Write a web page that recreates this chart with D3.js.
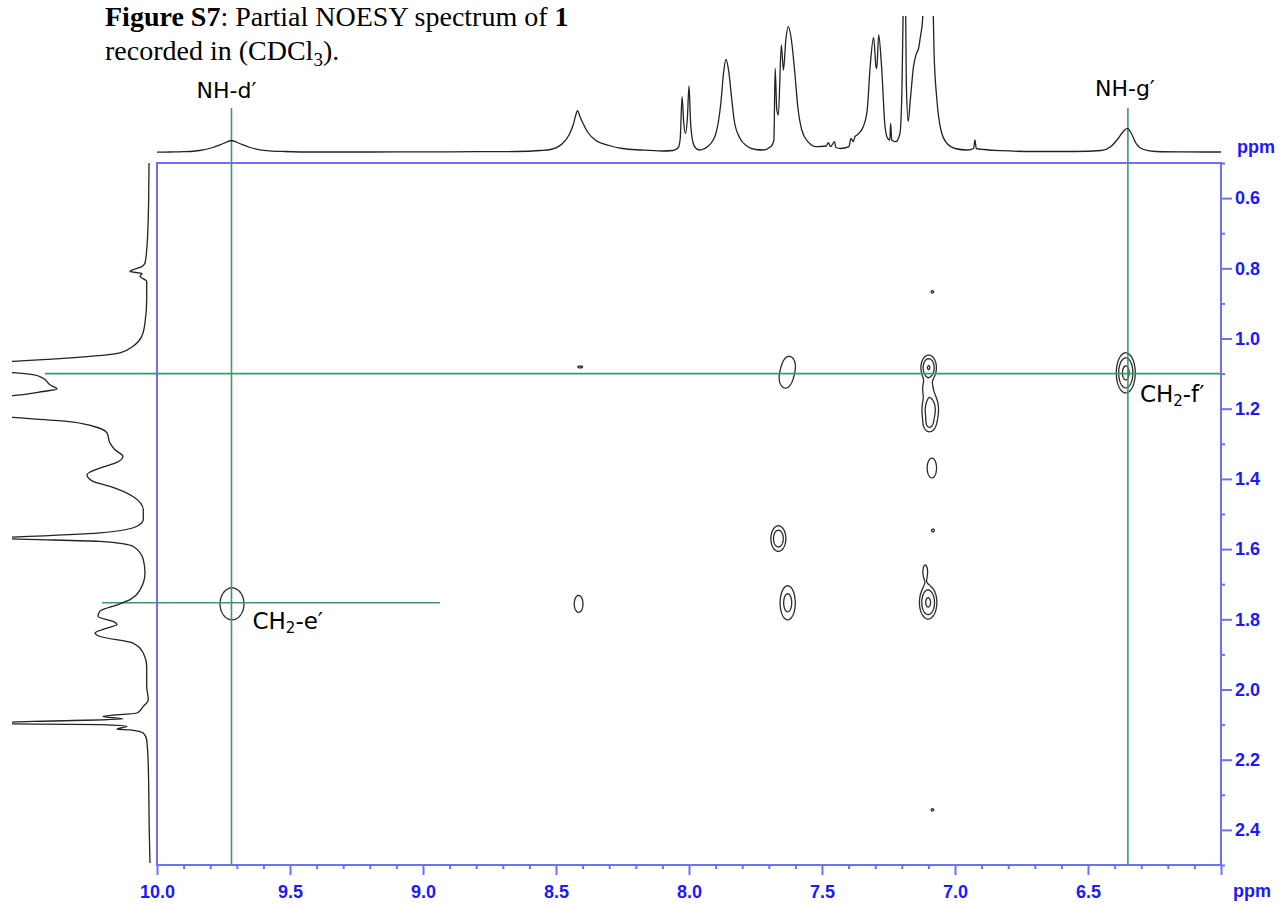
<!DOCTYPE html>
<html>
<head>
<meta charset="utf-8">
<script src="https://cdn.jsdelivr.net/npm/d3@7"></script>
<style>
body { margin: 0; background: #fff; }
svg { display: block; }
.title { font-family: "Liberation Serif", "Times New Roman", serif; font-size: 28px; fill: #000; }
.lbl { font-family: "DejaVu Sans", Verdana, sans-serif; fill: #000; }
.ax text { font-family: "Liberation Sans", Arial, sans-serif; font-weight: bold; font-size: 18px; fill: #1a1aff; }
.ax line { stroke: #6e6eff; stroke-width: 2; }
</style>
</head>
<body>
<svg id="chart" width="1282" height="906"></svg>
<script>
// F2 (top) 1D trace: [ppm, intensity]
var topTrace = [[10.00,0.3],[9.95,0.5],[9.90,0.8],[9.84,2],[9.79,5],[9.75,9],[9.72,12],[9.69,9],[9.65,5],[9.60,2.2],
  [9.52,1],[9.40,0.5],[9.20,0.5],[9.00,0.6],[8.80,0.8],[8.65,1],[8.56,2],[8.52,3],[8.48,8],[8.45,18],[8.435,28],
  [8.425,38],[8.419,41.8],[8.41,36],[8.40,30],[8.38,20],[8.35,12],[8.30,7],[8.25,4],[8.18,2.5],[8.10,1.5],[8.06,2],
  [8.04,5],[8.033,14],[8.026,55.8],[8.02,30],[8.013,19],[8.006,35],[8.000,66.5],[7.994,30],[7.985,10],[7.975,4.5],
  [7.96,2.5],[7.95,3],[7.93,6],[7.91,12],[7.90,18],[7.89,30],[7.88,50],[7.87,80],[7.861,93],[7.85,80],[7.84,55],
  [7.83,32],[7.81,15],[7.78,6],[7.75,3],[7.722,2.5],[7.692,6],[7.681,12],[7.676,84],[7.670,42.5],[7.664,37.5],
  [7.653,107.5],[7.645,82.5],[7.636,112.5],[7.627,125.8],[7.615,112.5],[7.602,79],[7.591,45.8],[7.576,22.5],
  [7.553,10.8],[7.522,5.8],[7.484,6.5],[7.476,9.8],[7.468,5.8],[7.453,10.8],[7.448,5],[7.430,4],[7.399,5.8],
  [7.391,14],[7.383,10.8],[7.376,15.8],[7.368,17.5],[7.345,25.8],[7.330,42.5],[7.319,85.8],[7.306,115.2],
  [7.297,85.8],[7.294,84],[7.287,117.5],[7.276,85.8],[7.263,25.8],[7.253,14],[7.245,12.5],[7.242,29.2],[7.238,12.5],
  [7.222,10.8],[7.207,19],[7.199,69],[7.194,160],[7.191,220],[7.186,160],[7.183,69],[7.176,31],[7.168,52.5],
  [7.156,85.8],[7.145,99],[7.137,104],[7.130,116],[7.122,132],[7.117,200],[7.106,300],[7.091,300],[7.086,200],
  [7.079,102],[7.068,52.5],[7.053,22.5],[7.030,9],[7.0,4],[6.953,2.5],[6.930,4],[6.925,12.5],[6.920,4],[6.891,3],
  [6.829,1.8],[6.70,1],[6.55,1],[6.45,2],[6.414,6],[6.391,12.5],[6.368,20.8],[6.352,24.2],[6.337,19],[6.319,9],
  [6.291,3],[6.245,1],[6.15,0.6],[6.0,0.5]];

// F1 (left) 1D trace: [ppm, intensity]
var leftTrace = [[0.500,1],[0.652,1.7],[0.747,3.3],[0.785,5],[0.795,8],[0.809,20],[0.815,8],[0.823,10],[0.837,3.3],
  [0.889,3.3],[0.955,5],[0.994,8.3],[1.022,17],[1.041,30],[1.056,83],[1.065,137],[1.08,300],[1.097,137],[1.103,117],
  [1.113,107],[1.132,100],[1.144,93],[1.151,107],[1.163,137],[1.19,300],[1.225,137],[1.236,83],[1.250,57],[1.269,43],
  [1.298,40],[1.317,35],[1.336,27],[1.355,35],[1.369,50],[1.388,63],[1.407,57],[1.421,40],[1.450,17],[1.488,6.7],
  [1.516,6.7],[1.535,13],[1.554,50],[1.566,140],[1.568,160],[1.571,137],[1.578,50],[1.592,17],[1.630,6.7],[1.668,5],
  [1.716,10],[1.744,20],[1.758,32],[1.777,50],[1.792,52],[1.806,37],[1.815,33],[1.825,43],[1.839,55],[1.849,50],
  [1.868,17],[1.896,6.7],[1.934,3.3],[1.991,3.3],[2.029,1.7],[2.048,6.7],[2.067,13],[2.077,47],[2.084,27],[2.091,117],
  [2.097,170],[2.100,50],[2.105,23],[2.113,33],[2.115,20],[2.124,6.7],[2.143,3.3],[2.219,1.7],[2.409,0.7],[2.494,0]];

// NOESY cross peaks: F2 ppm, F1 ppm, amplitude, linewidths (ppm)
var peakX  = [8.409, 7.623, 7.638, 7.099, 7.104, 7.093, 7.097, 7.087, 7.083, 7.112, 7.101, 7.664, 7.629, 8.415, 7.085, 7.085, 6.358, 9.718];
var peakY  = [1.081, 1.075, 1.117, 1.083, 1.140, 1.203, 1.246, 1.369, 1.547, 1.664, 1.752, 1.570, 1.753, 1.756, 0.867, 2.343, 1.098, 1.756];
var peakA  = [1.3,   1.5,   1.5,   5.0,   1.6,   3.5,   1.4,   1.8,   1.15,  1.3,   5.5,   4.0,   3.0,   1.6,   1.15,  1.15,  6.0,   1.7];
var peakWx = [0.013, 0.0226,0.0226,0.0162,0.015, 0.0196,0.015, 0.0162,0.0105,0.012, 0.0177,0.0169,0.0192,0.0169,0.0094,0.0094,0.0188,0.0436];
var peakWy = [0.004, 0.0256,0.0256,0.0199,0.017, 0.0313,0.0142,0.0262,0.008, 0.0262,0.0256,0.0219,0.0328,0.0251,0.0071,0.0071,0.0302,0.0442];
var levels = [1, 2.2, 4.8];

// axis ticks
var xMajor = [10.0, 9.5, 9.0, 8.5, 8.0, 7.5, 7.0, 6.5, 6.0];
var xMinor = d3.range(99, 60, -1).map(function(d){ return d / 10; }).filter(function(d){ return Math.round(d*10) % 5 != 0; });
var yMajor = [0.6, 0.8, 1.0, 1.2, 1.4, 1.6, 1.8, 2.0, 2.2, 2.4];
var yMinor = [0.5, 0.7, 0.9, 1.1, 1.3, 1.5, 1.7, 1.9, 2.1, 2.3, 2.5];

// guide lines and labels
var vGuides = [9.72, 6.35];
var hGuides = [1.10, 1.753];
var hGuideEnd = [6.0, 8.936];
var hGuideStart = [105, 48];   // in left-trace intensity units

function draw() {
  var svg = d3.select("#chart");
  var pl = 157, pr = 1221, pt = 163, pb = 865;

  var x = d3.scaleLinear().domain([10.0, 6.0]).range([pl, pr]);
  var y = d3.scaleLinear().domain([0.5, 2.5]).range([pt, pb]);
  var topI = d3.scaleLinear().domain([0, 100]).range([152.5, 52.5]);
  var leftI = d3.scaleLinear().domain([0, 100]).range([150, 50]);

  var defs = svg.append("defs");
  defs.append("clipPath").attr("id", "clipTop").append("rect")
    .attr("x", 0).attr("y", 16).attr("width", 1282).attr("height", 150);
  defs.append("clipPath").attr("id", "clipLeft").append("rect")
    .attr("x", 12).attr("y", 150).attr("width", 150).attr("height", 730);

  // title
  var t1 = svg.append("text").attr("class", "title").attr("x", 105).attr("y", 26);
  t1.append("tspan").attr("font-weight", "bold").text("Figure S7");
  t1.append("tspan").text(": Partial NOESY spectrum of ");
  t1.append("tspan").attr("font-weight", "bold").text("1");
  var t2 = svg.append("text").attr("class", "title").attr("x", 105).attr("y", 60);
  t2.append("tspan").text("recorded in (CDCl");
  t2.append("tspan").attr("font-size", "19px").attr("dy", 6).text("3");
  t2.append("tspan").attr("dy", -6).text(").");

  // frame
  svg.append("rect").attr("x", pl).attr("y", pt).attr("width", pr - pl).attr("height", pb - pt)
    .attr("fill", "none").attr("stroke", "#6e6eff").attr("stroke-width", 2);

  // axes
  var gx = svg.append("g").attr("class", "ax").attr("transform", "translate(0," + pb + ")");
  gx.call(d3.axisBottom(x).tickValues(xMinor).tickSize(4).tickFormat("").tickSizeOuter(0));
  gx.call(function(g){ g.select(".domain").remove(); });
  var gx2 = svg.append("g").attr("class", "ax").attr("transform", "translate(0," + pb + ")");
  gx2.call(d3.axisBottom(x).tickValues(xMajor).tickSize(10).tickPadding(10).tickFormat(function(d){ return d == 6.0 ? "" : d3.format(".1f")(d); }).tickSizeOuter(0));
  gx2.select(".domain").remove();

  var gy = svg.append("g").attr("class", "ax").attr("transform", "translate(" + pr + ",0)");
  gy.call(d3.axisRight(y).tickValues(yMinor).tickSize(4).tickFormat("").tickSizeOuter(0));
  gy.select(".domain").remove();
  var gy2 = svg.append("g").attr("class", "ax").attr("transform", "translate(" + pr + ",0)");
  gy2.call(d3.axisRight(y).tickValues(yMajor).tickSize(11).tickPadding(3).tickFormat(d3.format(".1f")).tickSizeOuter(0));
  gy2.select(".domain").remove();

  svg.append("text").attr("class", "ax").attr("x", 1237).attr("y", 153)
    .style("font-family", "'Liberation Sans', Arial, sans-serif").style("font-weight", "bold")
    .style("font-size", "18px").style("fill", "#1a1aff").text("ppm");
  svg.append("text").attr("x", 1233).attr("y", 897)
    .style("font-family", "'Liberation Sans', Arial, sans-serif").style("font-weight", "bold")
    .style("font-size", "18px").style("fill", "#1a1aff").text("ppm");

  // contours from the cross-peak table
  var W = pr - pl, H = pb - pt;
  var field = new Float64Array(W * H);
  for (var k = 0; k < peakX.length; k++) {
    var cx = x(peakX[k]) - pl, cy = y(peakY[k]) - pt;
    var sx = Math.abs(x(peakX[k] + peakWx[k]) - x(peakX[k]));
    var sy = Math.abs(y(peakY[k] + peakWy[k]) - y(peakY[k]));
    var i0 = Math.max(0, Math.floor(cx - 5 * sx)), i1 = Math.min(W - 1, Math.ceil(cx + 5 * sx));
    var j0 = Math.max(0, Math.floor(cy - 5 * sy)), j1 = Math.min(H - 1, Math.ceil(cy + 5 * sy));
    for (var j = j0; j <= j1; j++) {
      var py = y.invert(pt + j + 0.5);
      var dy = (py - peakY[k]) / peakWy[k];
      for (var i = i0; i <= i1; i++) {
        var px = x.invert(pl + i + 0.5);
        var dx = (px - peakX[k]) / peakWx[k];
        field[j * W + i] += peakA[k] * Math.exp(-0.5 * (dx * dx + dy * dy));
      }
    }
  }
  var cont = d3.contours().size([W, H]).thresholds(levels)(field);
  svg.append("g").attr("transform", "translate(" + pl + "," + pt + ")")
    .selectAll("path").data(cont).join("path")
    .attr("d", d3.geoPath())
    .attr("fill", "none").attr("stroke", "#2b2b2b").attr("stroke-width", 1.3);

  // guide lines
  var green = "#3c9a68";
  svg.append("g").selectAll("line").data(vGuides).join("line")
    .attr("x1", function(d){ return x(d); }).attr("x2", function(d){ return x(d); })
    .attr("y1", topI(44.5)).attr("y2", pb)
    .attr("stroke", green).attr("stroke-width", 1.6);
  svg.append("g").selectAll("line").data(hGuides).join("line")
    .attr("y1", function(d){ return y(d); }).attr("y2", function(d){ return y(d); })
    .attr("x1", function(d, i){ return leftI(hGuideStart[i]); })
    .attr("x2", function(d, i){ return x(hGuideEnd[i]); })
    .attr("stroke", green).attr("stroke-width", 1.6);

  // 1D traces
  var topLine = d3.line().x(function(d){ return x(d[0]); }).y(function(d){ return topI(d[1]); }).curve(d3.curveMonotoneX);
  svg.append("path").attr("clip-path", "url(#clipTop)").attr("d", topLine(topTrace))
    .attr("fill", "none").attr("stroke", "#222").attr("stroke-width", 1.3);
  var leftLine = d3.line().x(function(d){ return leftI(d[1]); }).y(function(d){ return y(d[0]); }).curve(d3.curveMonotoneY);
  svg.append("path").attr("clip-path", "url(#clipLeft)").attr("d", leftLine(leftTrace))
    .attr("fill", "none").attr("stroke", "#222").attr("stroke-width", 1.3);

  // peak labels
  svg.append("text").attr("class", "lbl").attr("x", x(vGuides[0]) - 5).attr("y", 98)
    .attr("text-anchor", "middle").style("font-size", "22px").text("NH-d\u2032");
  svg.append("text").attr("class", "lbl").attr("x", x(vGuides[1]) - 3).attr("y", 96)
    .attr("text-anchor", "middle").style("font-size", "22px").text("NH-g\u2032");

  var e = svg.append("text").attr("class", "lbl").attr("x", x(vGuides[0]) + 21).attr("y", 629).style("font-size", "23px");
  e.append("tspan").text("CH");
  e.append("tspan").attr("font-size", "15px").attr("dy", 4).text("2");
  e.append("tspan").attr("dy", -4).text("-e\u2032");
  var f = svg.append("text").attr("class", "lbl").attr("x", x(vGuides[1]) + 12).attr("y", 402).style("font-size", "23px");
  f.append("tspan").text("CH");
  f.append("tspan").attr("font-size", "15px").attr("dy", 4).text("2");
  f.append("tspan").attr("dy", -4).text("-f\u2032");
}
draw();
</script>
</body>
</html>
